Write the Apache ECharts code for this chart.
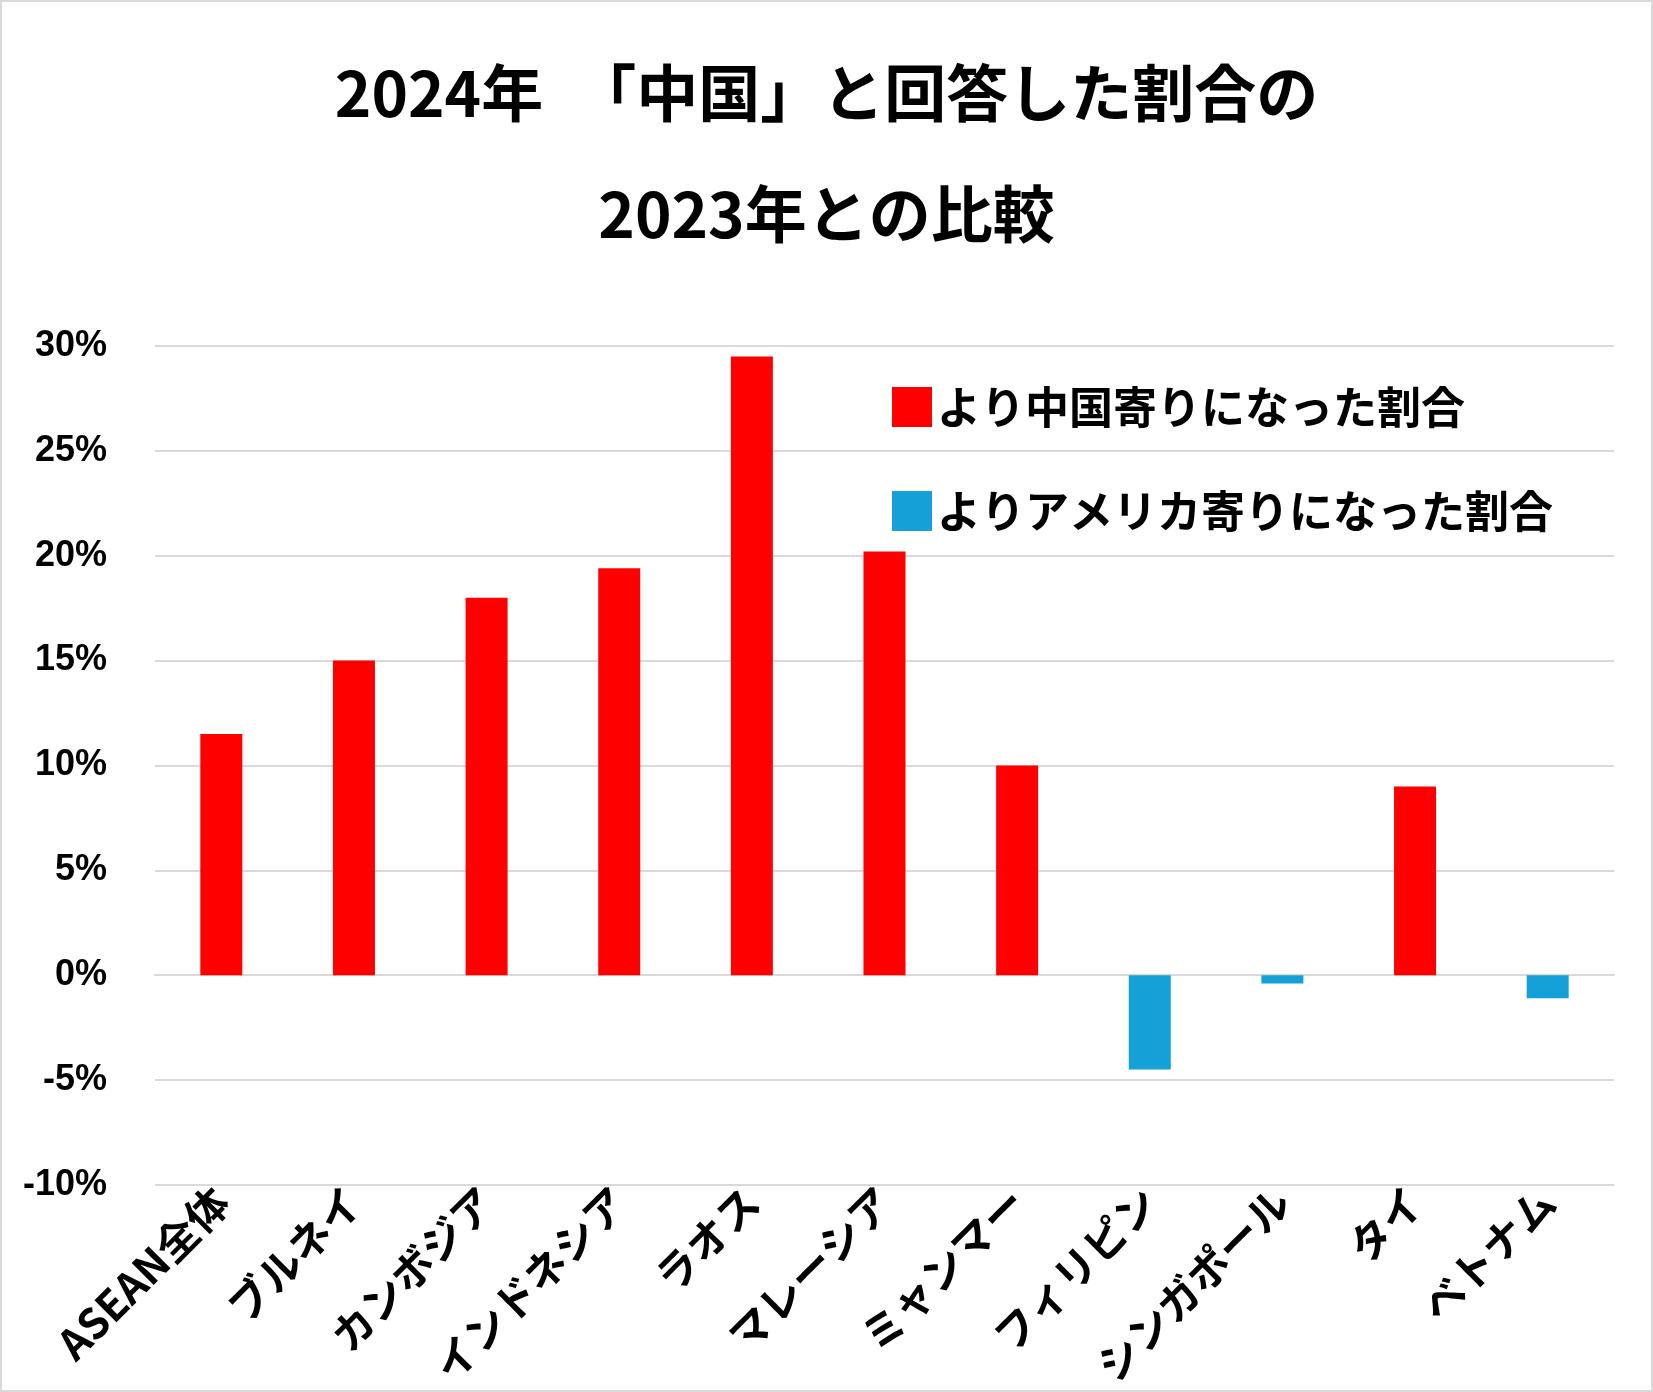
<!DOCTYPE html>
<html><head><meta charset="utf-8">
<script src="https://cdn.jsdelivr.net/npm/echarts@6/dist/echarts.min.js"></script>
<style>html,body{margin:0;background:#fff}#c{width:1653px;height:1392px;box-sizing:border-box;border:2px solid #d9d9d9}</style>
</head><body><div id="c"></div>
<script>
const countries = ['ASEAN全体','ブルネイ','カンボジア','インドネシア','ラオス','マレーシア','ミャンマー','フィリピン','シンガポール','タイ','ベトナム'];
const toChina = [11.5, 15.0, 18.0, 19.4, 29.5, 20.2, 10.0, null, null, 9.0, null];
const toUS = [null, null, null, null, null, null, null, -4.5, -0.4, null, -1.1];
const font = '"Noto Sans CJK JP", sans-serif';
const chart = echarts.init(document.getElementById('c'));
chart.setOption({
  textStyle: {fontFamily: font},
  title: {
    text: '2024年　「中国」と回答した割合の\n2023年との比較',
    left: 'center', top: 26,
    textStyle: {fontSize: 62, fontWeight: 'bold', color: '#000', lineHeight: 121, fontFamily: font}
  },
  legend: {
    orient: 'vertical', left: 885, top: 378, itemGap: 60,
    itemWidth: 40, itemHeight: 40, icon: 'rect',
    textStyle: {fontSize: 44, fontWeight: 'bold', color: '#000', fontFamily: font}
  },
  grid: {left: 153, right: 37, top: 344, bottom: 103, containLabel: false},
  xAxis: {
    type: 'category', data: countries,
    axisLine: {show: true, onZero: true, lineStyle: {color: '#d9d9d9', width: 2}},
    axisTick: {show: false},
    axisLabel: {rotate: 45, interval: 0, fontSize: 42, fontWeight: 'bold', color: '#000', fontFamily: font, margin: 10}
  },
  yAxis: {
    type: 'value', min: -10, max: 30, interval: 5,
    axisLabel: {formatter: '{value}%', fontSize: 36, fontWeight: 'bold', color: '#000', margin: 48, fontFamily: 'Liberation Sans'},
    splitLine: {lineStyle: {color: '#d9d9d9', width: 2}}
  },
  series: [
    {name: 'より中国寄りになった割合', type: 'bar', stack: 'a', data: toChina, barWidth: 42, itemStyle: {color: '#ff0000'}},
    {name: 'よりアメリカ寄りになった割合', type: 'bar', stack: 'a', data: toUS, barWidth: 42, itemStyle: {color: '#15a0d8'}}
  ]
});
</script></body></html>
